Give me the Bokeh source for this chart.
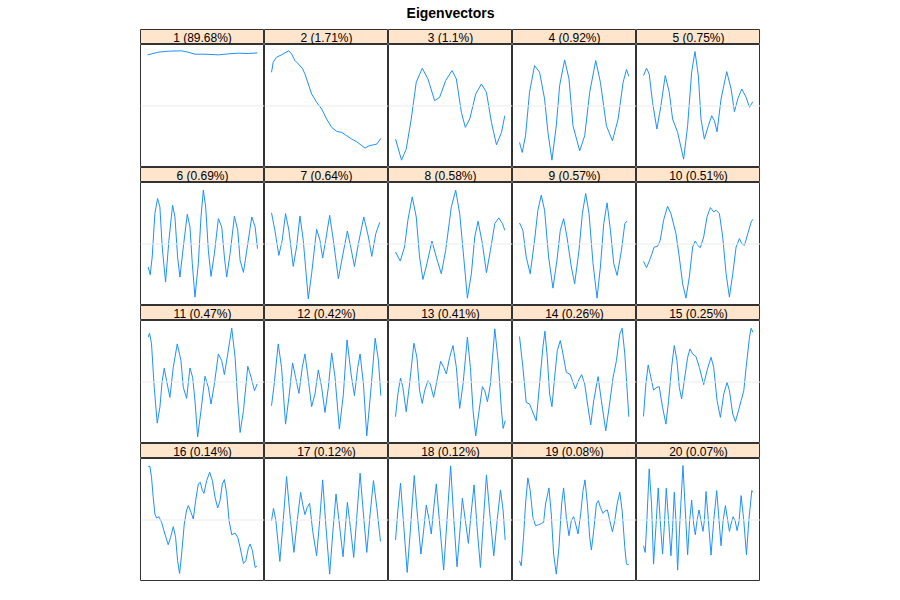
from bokeh.plotting import figure
from bokeh.models import Range1d, Span, Label, Spacer
from bokeh.layouts import row, column
from bokeh.embed import file_html
from bokeh.resources import INLINE

main_title = "Eigenvectors"
titles = ["1 (89.68%)", "2 (1.71%)", "3 (1.1%)", "4 (0.92%)", "5 (0.75%)",
          "6 (0.69%)", "7 (0.64%)", "8 (0.58%)", "9 (0.57%)", "10 (0.51%)",
          "11 (0.47%)", "12 (0.42%)", "13 (0.41%)", "14 (0.26%)", "15 (0.25%)",
          "16 (0.14%)", "17 (0.12%)", "18 (0.12%)", "19 (0.08%)", "20 (0.07%)"]

pos1 = [0, 32, 62, 102, 122, 142, 172, 212, 242, 272, 302, 329]
vals1 = [0.153, 0.161, 0.164, 0.165, 0.161, 0.155, 0.155, 0.153, 0.156, 0.158, 0.157, 0.159]

pos2 = [0, 5, 15, 30, 40, 52, 60, 70, 80, 92, 100, 110, 120, 135, 150, 165, 180, 195, 210, 225, 240, 255, 268, 280, 292, 305, 315, 327]
vals2 = [0.101, 0.131, 0.146, 0.153, 0.159, 0.165, 0.156, 0.136, 0.126, 0.113, 0.096, 0.066, 0.036, 0.011, -0.009, -0.039, -0.064, -0.076, -0.079, -0.089, -0.099, -0.107, -0.117, -0.126, -0.119, -0.116, -0.114, -0.097]

pos3 = [0, 18, 32, 47, 62, 80, 97, 117, 132, 150, 169, 182, 197, 209, 222, 240, 257, 272, 287, 302, 317, 327]
vals3 = [-0.099, -0.162, -0.129, -0.039, 0.071, 0.113, 0.081, 0.016, 0.026, 0.076, 0.106, 0.081, -0.019, -0.064, -0.039, 0.036, 0.066, 0.041, -0.049, -0.116, -0.079, -0.029]

pos4 = [0, 8, 18, 30, 45, 60, 75, 85, 97, 110, 120, 135, 148, 160, 180, 195, 210, 228, 242, 260, 278, 295, 310, 320, 327]
vals4 = [-0.109, -0.139, -0.089, 0.041, 0.121, 0.101, 0.021, -0.079, -0.162, -0.059, 0.061, 0.138, 0.081, -0.059, -0.134, -0.089, 0.041, 0.136, 0.071, -0.059, -0.104, -0.039, 0.071, 0.109, 0.089]

pos5 = [0, 9, 17, 27, 40, 52, 65, 77, 87, 102, 120, 132, 144, 154, 164, 172, 182, 194, 204, 212, 220, 232, 249, 262, 272, 282, 294, 307, 317, 327]
vals5 = [0.091, 0.113, 0.096, 0.011, -0.069, 0.001, 0.091, 0.041, -0.039, -0.079, -0.159, -0.059, 0.101, 0.163, 0.091, -0.039, -0.099, -0.059, -0.029, -0.044, -0.077, 0.021, 0.103, 0.051, -0.017, 0.021, 0.051, 0.026, -0.004, 0.013]

pos6 = [2, 8, 14, 22, 30, 37, 44, 54, 64, 75, 82, 90, 97, 107, 119, 127, 134, 142, 152, 160, 167, 174, 182, 190, 200, 212, 222, 230, 237, 247, 260, 270, 277, 287, 297, 312, 322, 329]
vals6 = [-0.069, -0.092, -0.039, 0.091, 0.136, 0.111, -0.009, -0.114, 0.011, 0.116, 0.081, -0.039, -0.099, -0.009, 0.089, 0.051, -0.059, -0.159, -0.059, 0.081, 0.161, 0.111, -0.019, -0.097, -0.029, 0.076, 0.051, -0.039, -0.099, -0.029, 0.083, 0.041, -0.049, -0.085, -0.019, 0.081, 0.051, -0.014]

pos7 = [0, 10, 22, 32, 42, 52, 65, 75, 85, 95, 110, 120, 135, 145, 153, 162, 174, 185, 200, 212, 227, 237, 248, 260, 276, 290, 300, 312, 324]
vals7 = [0.093, 0.041, -0.034, 0.011, 0.091, 0.041, -0.067, -0.009, 0.084, 0.011, -0.164, -0.089, 0.044, 0.011, -0.042, 0.011, 0.086, 0.011, -0.104, -0.039, 0.039, -0.009, -0.067, 0.001, 0.081, 0.021, -0.037, 0.031, 0.065]

pos8 = [0, 14, 27, 37, 50, 62, 72, 82, 94, 109, 122, 137, 150, 167, 180, 192, 204, 215, 227, 237, 247, 260, 272, 284, 297, 309, 320, 327]
vals8 = [-0.024, -0.051, -0.009, 0.071, 0.141, 0.081, -0.039, -0.106, -0.059, 0.009, -0.039, -0.089, -0.019, 0.111, 0.161, 0.091, -0.039, -0.162, -0.089, 0.021, 0.068, 0.001, -0.086, -0.019, 0.061, 0.078, 0.061, 0.041]

pos9 = [0, 10, 20, 32, 45, 55, 65, 75, 87, 100, 112, 122, 132, 142, 155, 165, 178, 188, 198, 208, 220, 232, 242, 252, 262, 272, 282, 292, 305, 315, 322]
vals9 = [0.063, 0.041, -0.039, -0.089, 0.011, 0.101, 0.146, 0.101, -0.039, -0.132, -0.049, 0.041, 0.076, 0.021, -0.069, -0.119, -0.019, 0.091, 0.151, 0.091, -0.059, -0.162, -0.069, 0.061, 0.123, 0.041, -0.059, -0.094, -0.019, 0.061, 0.069]

pos10 = [0, 9, 20, 32, 42, 50, 60, 72, 82, 97, 107, 117, 127, 137, 147, 155, 162, 170, 180, 190, 200, 210, 217, 227, 237, 247, 257, 267, 277, 287, 294, 302, 312, 322, 327]
vals10 = [-0.052, -0.071, -0.044, -0.009, -0.007, 0.011, 0.071, 0.113, 0.091, 0.031, -0.039, -0.119, -0.162, -0.099, -0.009, 0.009, -0.004, -0.011, 0.021, 0.081, 0.109, 0.096, 0.101, 0.091, 0.021, -0.089, -0.159, -0.089, -0.009, 0.016, 0.001, -0.004, 0.031, 0.066, 0.074]

pos11 = [2, 6, 12, 20, 29, 37, 44, 50, 57, 67, 77, 89, 100, 107, 117, 127, 135, 142, 150, 160, 172, 182, 190, 200, 212, 222, 230, 240, 252, 262, 270, 277, 287, 300, 310, 320, 328]
vals11 = [0.134, 0.146, 0.114, -0.016, -0.123, -0.076, 0.004, 0.041, 0.004, -0.046, 0.044, 0.114, 0.064, -0.016, -0.049, 0.042, 0.014, -0.056, -0.164, -0.086, 0.017, -0.016, -0.066, -0.006, 0.084, 0.064, 0.022, 0.084, 0.161, 0.074, -0.056, -0.151, -0.086, 0.047, 0.014, -0.026, -0.006]

pos12 = [0, 8, 20, 30, 42, 52, 63, 72, 82, 92, 100, 108, 120, 130, 140, 150, 160, 170, 180, 190, 203, 215, 226, 238, 248, 258, 265, 275, 285, 298, 310, 320, 327]
vals12 = [-0.071, -0.006, 0.114, 0.044, -0.126, -0.046, 0.057, 0.014, -0.034, 0.044, 0.084, 0.024, -0.074, -0.036, 0.036, -0.016, -0.091, -0.016, 0.087, 0.014, -0.141, -0.036, 0.126, 0.024, -0.041, 0.044, 0.084, -0.006, -0.161, -0.016, 0.131, 0.064, -0.041]

pos13 = [0, 7, 15, 22, 32, 42, 55, 64, 72, 80, 87, 97, 104, 114, 122, 135, 144, 152, 162, 172, 182, 192, 202, 215, 224, 232, 240, 250, 260, 267, 275, 284, 297, 307, 317, 322, 328]
vals13 = [-0.104, -0.036, 0.012, -0.016, -0.089, -0.006, 0.116, 0.074, -0.026, -0.064, -0.026, 0.004, -0.006, -0.046, -0.006, 0.062, 0.044, 0.024, 0.074, 0.109, 0.044, -0.079, -0.006, 0.134, 0.044, -0.086, -0.161, -0.086, -0.014, -0.026, -0.059, -0.006, 0.159, 0.064, -0.086, -0.139, -0.116]

pos14 = [0, 10, 20, 30, 38, 50, 60, 70, 76, 83, 90, 97, 105, 113, 122, 130, 140, 152, 160, 167, 177, 186, 195, 205, 213, 222, 235, 245, 258, 268, 280, 290, 300, 307, 315, 322, 327]
vals14 = [0.136, 0.044, -0.061, -0.066, -0.086, -0.116, -0.006, 0.104, 0.152, 0.074, -0.036, -0.074, 0.014, 0.094, 0.124, 0.084, 0.029, 0.022, -0.001, -0.021, 0.006, 0.022, -0.006, -0.076, -0.128, -0.056, 0.016, -0.056, -0.146, -0.076, 0.014, 0.064, 0.144, 0.161, 0.084, -0.026, -0.104]

pos15 = [0, 7, 14, 22, 30, 40, 47, 57, 67, 75, 84, 92, 100, 107, 114, 122, 132, 139, 147, 157, 167, 180, 190, 202, 210, 220, 230, 240, 250, 257, 267, 275, 284, 292, 300, 307, 317, 322, 327]
vals15 = [-0.103, -0.006, 0.051, 0.014, -0.024, -0.016, -0.014, -0.076, -0.126, -0.056, 0.044, 0.109, 0.064, -0.016, -0.051, 0.004, 0.074, 0.099, 0.084, 0.076, 0.044, -0.008, 0.034, 0.074, 0.044, -0.056, -0.106, -0.036, -0.001, -0.026, -0.096, -0.118, -0.086, -0.056, -0.026, 0.044, 0.134, 0.161, 0.149]

pos16 = [2, 7, 12, 17, 22, 27, 34, 42, 52, 62, 69, 77, 84, 90, 96, 102, 110, 117, 122, 130, 137, 144, 152, 158, 164, 169, 177, 186, 194, 202, 210, 217, 224, 230, 237, 244, 252, 262, 270, 277, 287, 294, 302, 307, 314, 322, 328]
vals16 = [0.160, 0.161, 0.128, 0.068, 0.018, 0.006, 0.010, -0.007, -0.042, -0.074, -0.052, -0.020, -0.052, -0.122, -0.160, -0.102, -0.012, 0.030, 0.043, 0.023, 0.003, 0.058, 0.108, 0.113, 0.088, 0.080, 0.118, 0.143, 0.118, 0.068, 0.036, 0.058, 0.108, 0.121, 0.078, -0.002, -0.044, -0.039, -0.052, -0.082, -0.130, -0.122, -0.082, -0.072, -0.092, -0.142, -0.137]

pos17 = [0, 6, 13, 25, 35, 45, 55, 67, 77, 87, 93, 100, 107, 114, 123, 135, 144, 153, 163, 174, 183, 193, 203, 214, 221, 227, 236, 246, 255, 265, 275, 285, 295, 305, 315, 326]
vals17 = [-0.002, 0.035, -0.002, -0.124, -0.002, 0.130, 0.018, -0.097, -0.002, 0.083, 0.048, 0.016, 0.038, 0.050, -0.032, -0.107, -0.002, 0.120, -0.022, -0.162, -0.042, 0.078, -0.012, -0.110, -0.022, 0.053, -0.022, -0.112, 0.008, 0.140, 0.018, -0.097, 0.018, 0.118, 0.038, -0.064]

pos18 = [0, 7, 15, 25, 35, 45, 56, 66, 76, 84, 92, 100, 107, 114, 122, 133, 144, 154, 165, 174, 184, 192, 200, 209, 218, 226, 235, 244, 254, 263, 272, 283, 294, 304, 314, 322, 328]
vals18 = [-0.060, 0.028, 0.110, -0.022, -0.157, -0.022, 0.133, 0.008, -0.102, -0.032, 0.045, 0.003, -0.042, 0.033, 0.108, -0.022, -0.150, -0.002, 0.162, 0.008, -0.140, -0.042, 0.065, -0.002, -0.070, 0.018, 0.105, -0.022, -0.142, -0.002, 0.135, 0.008, -0.107, -0.002, 0.090, 0.028, -0.060]

pos19 = [0, 5, 12, 18, 25, 32, 40, 48, 58, 66, 72, 78, 88, 95, 102, 110, 118, 126, 132, 140, 148, 155, 162, 168, 175, 183, 190, 196, 203, 210, 215, 222, 230, 236, 242, 250, 257, 263, 270, 278, 285, 292, 300, 307, 315, 320, 327]
vals19 = [-0.122, -0.137, -0.052, 0.048, 0.126, 0.088, 0.008, -0.017, -0.014, -0.010, -0.007, 0.048, 0.096, 0.018, -0.102, -0.162, -0.082, 0.048, 0.096, 0.008, -0.047, -0.002, 0.010, -0.012, -0.042, 0.018, 0.088, 0.120, 0.048, -0.052, -0.090, -0.032, 0.048, 0.058, 0.038, 0.020, 0.028, 0.030, -0.002, -0.035, -0.002, 0.048, 0.083, 0.028, -0.082, -0.132, -0.134]

pos20 = [0, 5, 10, 17, 24, 30, 37, 44, 50, 57, 62, 68, 75, 82, 87, 92, 97, 102, 109, 118, 124, 132, 138, 144, 150, 155, 160, 166, 172, 178, 182, 187, 194, 202, 210, 219, 226, 232, 238, 245, 252, 257, 262, 268, 274, 280, 286, 292, 300, 308, 315, 324, 327]
vals20 = [-0.077, -0.097, -0.002, 0.153, 0.048, -0.132, -0.022, 0.096, -0.002, -0.102, -0.022, 0.095, -0.002, -0.107, -0.022, 0.083, -0.002, -0.150, -0.002, 0.163, 0.048, -0.104, -0.002, 0.060, -0.012, -0.044, -0.002, 0.030, -0.002, -0.034, -0.002, 0.085, -0.002, -0.105, -0.002, 0.088, -0.002, -0.077, -0.002, 0.043, -0.002, -0.034, -0.012, 0.010, -0.002, -0.032, -0.002, 0.073, -0.002, -0.104, -0.002, 0.088, 0.083]

positions = [pos1, pos2, pos3, pos4, pos5, pos6, pos7, pos8, pos9, pos10,
             pos11, pos12, pos13, pos14, pos15, pos16, pos17, pos18, pos19, pos20]
values = [vals1, vals2, vals3, vals4, vals5, vals6, vals7, vals8, vals9, vals10,
          vals11, vals12, vals13, vals14, vals15, vals16, vals17, vals18, vals19, vals20]

FONT = "Liberation Sans"
PW, PH, SH = 124, 123, 15
NCOL, NROW = 5, 4


def strip_fig(text):
    s = figure(width=PW, height=SH, x_range=Range1d(0, 1), y_range=Range1d(0, 1),
               toolbar_location=None, output_backend="svg", min_border=0,
               x_axis_location=None, y_axis_location=None,
               background_fill_color="#ffe5cc", border_fill_color="#ffe5cc",
               outline_line_color="#333333", outline_line_width=1)
    s.grid.visible = False
    s.add_layout(Label(x=0.5, y=0.45, text=text, text_align="center", text_baseline="middle",
                       text_font_size="12px", text_font=FONT, text_color="black"))
    return s


def panel_fig(xs, ys):
    p = figure(width=PW, height=PH, x_range=Range1d(-21, 350), y_range=Range1d(-0.184, 0.184),
               toolbar_location=None, output_backend="svg", min_border=0,
               x_axis_location=None, y_axis_location=None,
               background_fill_color="white", border_fill_color="white",
               outline_line_color="#333333", outline_line_width=1)
    p.grid.visible = False
    p.add_layout(Span(location=0, dimension="width", line_color="#ebebeb", line_width=1))
    p.line(xs, ys, line_color="#1e90ff", line_width=1)
    return p


head = figure(width=PW * NCOL, height=29, x_range=Range1d(0, 1), y_range=Range1d(0, 1),
              toolbar_location=None, output_backend="svg", min_border=0,
              x_axis_location=None, y_axis_location=None, outline_line_color=None)
head.grid.visible = False
head.add_layout(Label(x=0.5, y=0.58, text=main_title, text_align="center", text_baseline="middle",
                      text_font_size="14px", text_font_style="bold", text_font=FONT, text_color="black"))

rows = [head]
for r in range(NROW):
    strips = []
    panels = []
    for c in range(NCOL):
        k = r * NCOL + c
        strips.append(strip_fig(titles[k]))
        panels.append(panel_fig(positions[k], values[k]))
    rows.append(row(*strips))
    rows.append(row(*panels))

layout = row(Spacer(width=140, height=10), column(*rows))

open("out.html", "w").write(file_html(layout, INLINE))
